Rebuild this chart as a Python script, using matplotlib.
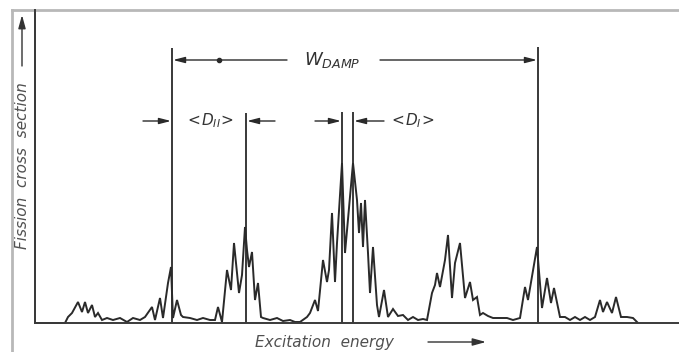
import matplotlib
matplotlib.use("Agg")
import matplotlib.pyplot as plt
from matplotlib.lines import Line2D

plt.rcParams['font.family'] = ['DejaVu Sans']
plt.rcParams['mathtext.fontset'] = 'dejavusans'

# Spectrum (arbitrary energy units, arbitrary cross-section units)
energy = [0, 30, 33, 37, 43, 47, 50, 53, 57, 60, 63, 67, 72, 78, 85, 92, 98, 105, 110,
          117, 120, 125, 128, 133, 136, 138, 142, 146, 148, 155, 162, 168, 175, 180,
          183, 187, 192, 196, 199, 204, 207, 210, 212, 214, 217, 220, 223, 226, 228,
          235, 242, 248, 255, 260, 265, 272, 275, 280, 283, 288, 292, 294, 297, 300,
          302, 307, 310, 315, 318, 322, 324, 326, 328, 330, 333, 335, 338, 342, 344,
          349, 353, 358, 363, 368, 373, 378, 383, 388, 392, 397, 400, 402, 405, 410,
          413, 417, 420, 425, 430, 435, 438, 442, 445, 448, 453, 458, 465, 472, 478,
          485, 490, 493, 499, 502, 507, 512, 516, 519, 525, 530, 535, 540, 545, 550,
          555, 560, 565, 568, 572, 577, 581, 586, 592, 598, 602]
sigma = [0, 0, 6, 10, 21, 11, 21, 10, 18, 6, 10, 3, 5, 3, 5, 1, 5, 3, 6,
         16, 3, 25, 5, 40, 56, 5, 23, 8, 6, 5, 3, 5, 3, 3,
         16, 1, 53, 33, 80, 30, 48, 96, 73, 56, 71, 23, 40, 6, 5,
         3, 5, 2, 3, 1, 1, 6, 10, 23, 12, 63, 41, 53, 110, 41, 80,
         160, 70, 126, 160, 123, 90, 120, 76, 123, 70, 30, 76, 18, 6,
         33, 6, 14, 7, 8, 3, 6, 3, 4, 3, 30, 38, 50, 36, 63,
         88, 25, 60, 80, 25, 41, 23, 26, 8, 10, 7, 5, 5, 5, 3,
         5, 36, 23, 58, 76, 15, 45, 20, 35, 6, 6, 3, 6, 3, 6,
         3, 6, 23, 11, 21, 10, 26, 6, 6, 5, 1]

# Marked levels (class-II / class-I states) and their marker heights
level_energy = [137, 211, 307, 318, 503]
level_top = [275, 210, 211, 211, 276]

W_PX, H_PX = 679, 352
fig = plt.figure(figsize=(W_PX / 100, H_PX / 100), dpi=100)
fig.patch.set_facecolor('white')

ax = fig.add_axes([35 / W_PX, (H_PX - 323) / H_PX, (W_PX - 35) / W_PX, 313 / H_PX])
ax.set_xlim(0, 644)
ax.set_ylim(0, 313)
ax.set_xticks([])
ax.set_yticks([])
for s in ['top', 'right']:
    ax.spines[s].set_visible(False)
for s in ['left', 'bottom']:
    ax.spines[s].set_color('#3a3a3a')
    ax.spines[s].set_linewidth(1.4)
ax.set_facecolor('none')

ink = '#2a2a2a'
ax.plot(energy, sigma, color=ink, lw=1.4, solid_joinstyle='miter', clip_on=False)
ax.vlines(level_energy, 0, level_top, color=ink, lw=1.3)

arrow = dict(arrowstyle='-|>,head_length=0.7,head_width=0.18', color=ink, lw=1.0,
             shrinkA=0, shrinkB=0, mutation_scale=10)

# W_DAMP
y_w = 263
ax.annotate('', xy=(level_energy[0] + 1, y_w), xytext=(252, y_w), arrowprops=arrow)
ax.annotate('', xy=(level_energy[4] - 1, y_w), xytext=(345, y_w), arrowprops=arrow)
ax.plot([184], [y_w], marker='o', ms=3, color=ink)
ax.text(297, y_w, r'$W_{DAMP}$', ha='center', va='center', fontsize=13, color='#333333')

# <D_II>
y_d = 202
ax.annotate('', xy=(level_energy[0] - 1, y_d), xytext=(108, y_d), arrowprops=arrow)
ax.annotate('', xy=(level_energy[1] + 1, y_d), xytext=(240, y_d), arrowprops=arrow)
ax.text(174, y_d, r'$<\!D_{II}\!>$', ha='center', va='center', fontsize=11, color='#333333')

# <D_I>
ax.annotate('', xy=(level_energy[2] - 1, y_d), xytext=(280, y_d), arrowprops=arrow)
ax.annotate('', xy=(level_energy[3] + 1, y_d), xytext=(349, y_d), arrowprops=arrow)
ax.text(377, y_d, r'$<\!D_{I}\!>$', ha='center', va='center', fontsize=11, color='#333333')

# Outer frame (grey, from the scan)
def fpx(x, y):
    return (x / W_PX, 1 - y / H_PX)

fig.add_artist(Line2D([12 / W_PX, 1], [1 - 10 / H_PX, 1 - 10 / H_PX],
                      transform=fig.transFigure, color='#b8b8b8', lw=2))
fig.add_artist(Line2D([12 / W_PX, 12 / W_PX], [0, 1 - 10 / H_PX],
                      transform=fig.transFigure, color='#b8b8b8', lw=2))
fig.add_artist(Line2D([35 / W_PX, 35 / W_PX], [1 - 323 / H_PX, 1 - 10 / H_PX],
                      transform=fig.transFigure, color='#3a3a3a', lw=1.4))

# Axis labels with arrows
lab_color = '#505050'
fig.text(*fpx(23, 166), 'Fission  cross  section', rotation=90, ha='center', va='center',
         fontsize=11, style='italic', color=lab_color)
fig.text(*fpx(324, 342), 'Excitation  energy', ha='center', va='center',
         fontsize=11, style='italic', color=lab_color)
farrow = dict(arrowstyle='-|>,head_length=0.8,head_width=0.22', color='#333333', lw=1.0,
              shrinkA=0, shrinkB=0, mutation_scale=10)
ax.annotate('', xy=fpx(22, 15), xytext=fpx(22, 66), xycoords='figure fraction',
            textcoords='figure fraction', arrowprops=farrow, annotation_clip=False)
ax.annotate('', xy=fpx(486, 342), xytext=fpx(428, 342), xycoords='figure fraction',
            textcoords='figure fraction', arrowprops=farrow, annotation_clip=False)

fig.savefig('out.png', dpi=100, facecolor='white')
